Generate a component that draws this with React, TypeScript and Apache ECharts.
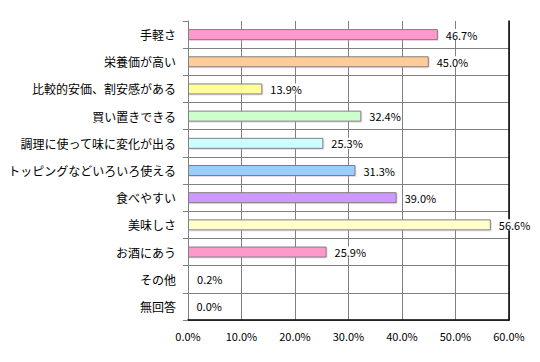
import React, { useEffect, useRef } from "react";
import * as echarts from "echarts";

const categories = [
  "手軽さ",
  "栄養価が高い",
  "比較的安価、割安感がある",
  "買い置きできる",
  "調理に使って味に変化が出る",
  "トッピングなどいろいろ使える",
  "食べやすい",
  "美味しさ",
  "お酒にあう",
  "その他",
  "無回答",
];
const values = [46.7, 45.0, 13.9, 32.4, 25.3, 31.3, 39.0, 56.6, 25.9, 0.2, 0.0];
const barColors = [
  "#FF99CC",
  "#FFCC99",
  "#FFFF99",
  "#CCFFCC",
  "#CCFFFF",
  "#99CCFF",
  "#CC99FF",
  "#FFFFCC",
  "#FF99CC",
  "#FFCC99",
  "#FFFF99",
];
const xTicks = [0, 10, 20, 30, 40, 50, 60];

export default function App() {
  const ref = useRef<HTMLDivElement>(null);
  useEffect(() => {
    document.body.style.margin = "0";
    if (!ref.current) return;
    const chart = echarts.init(ref.current, null, { renderer: "svg" });
    const font = "'Noto Sans CJK JP', sans-serif";
    const splitColors = categories.map(() => "#808080");
    splitColors.unshift("rgba(0,0,0,0)");
    chart.setOption({
      animation: false,
      backgroundColor: "#ffffff",
      grid: { left: 188, right: 31, top: 21, bottom: 42, containLabel: false },
      xAxis: {
        type: "value",
        min: xTicks[0],
        max: xTicks[xTicks.length - 1],
        interval: 10,
        axisLine: { show: true, lineStyle: { color: "#000", width: 1.5 } },
        axisTick: { show: false },
        splitLine: { show: true, lineStyle: { color: "#808080", width: 1 } },
        axisLabel: {
          color: "#000",
          fontFamily: font,
          fontSize: 11,
          margin: 10,
          formatter: (v: number) => v.toFixed(1) + "%",
        },
      },
      yAxis: [
        {
          type: "category",
          inverse: true,
          data: categories,
          axisLine: { show: true, lineStyle: { color: "#808080" } },
          axisTick: { show: true, length: 5, lineStyle: { color: "#808080" } },
          splitLine: { show: true, lineStyle: { color: splitColors } },
          axisLabel: { color: "#000", fontFamily: font, fontSize: 12, margin: 12 },
        },
        {
          type: "category",
          inverse: true,
          position: "right",
          data: categories,
          axisLine: { show: true, lineStyle: { color: "#000", width: 1.5 } },
          axisTick: { show: false },
          axisLabel: { show: false },
          splitLine: { show: false },
        },
      ],
      series: [
        {
          type: "bar",
          yAxisIndex: 0,
          barWidth: 11,
          data: values.map((v, i) => ({
            value: v,
            itemStyle: { color: barColors[i] },
          })),
          itemStyle: {
            borderColor: "#808080",
            borderWidth: 1,
            shadowColor: "rgba(200,150,200,0.35)",
            shadowOffsetX: 1,
            shadowOffsetY: 1,
            shadowBlur: 0,
          },
          label: {
            show: true,
            position: "right",
            distance: 8,
            color: "#000",
            fontFamily: font,
            fontSize: 11,
            backgroundColor: "#fff",
            formatter: (p: any) => Number(p.value).toFixed(1) + "%",
          },
        },
      ],
    });
    return () => chart.dispose();
  }, []);
  return <div ref={ref} style={{ width: 540, height: 362 }} />;
}
